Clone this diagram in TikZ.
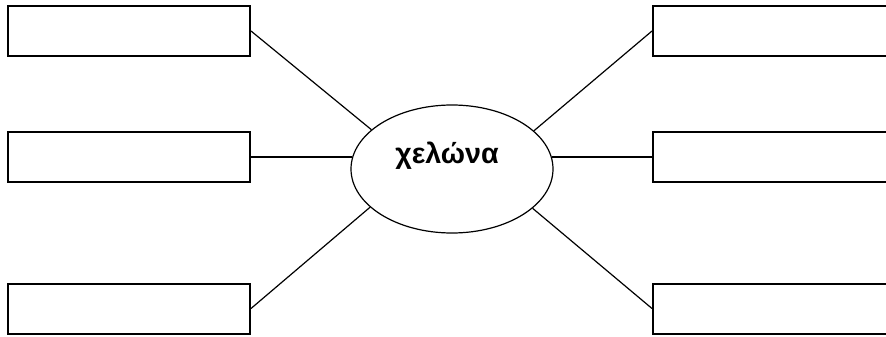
\documentclass[tikz,border=0pt]{standalone}
\usepackage{fontspec}
\setmainfont{Liberation Sans}
\usetikzlibrary{shapes.geometric}
\begin{document}
\begin{tikzpicture}[x=0.75pt,y=-0.75pt,
		answerbox/.style={draw,line width=1.5pt,minimum width=181.5pt,minimum height=37.5pt,inner sep=0pt},
		middle/.style={draw,ellipse,line width=0.9pt,minimum width=151.5pt,minimum height=96pt,inner sep=0pt},
		spoke/.style={line width=0.9pt}]
		\useasboundingbox (0,0) rectangle (886,336);

		\node[middle] (turtle) at (452,169) {};
		\node[font=\bfseries\fontsize{21.5}{26}\selectfont] (turtletext) at (447,156) {χελώνα};

		\node[answerbox] (boxL1) at (129,31) {};
		\node[answerbox] (boxL2) at (129,157) {};
		\node[answerbox] (boxL3) at (129,308.5) {};

		\node[answerbox] (boxR1) at (774,31) {};
		\node[answerbox] (boxR2) at (774,157) {};
		\node[answerbox] (boxR3) at (774,308.5) {};

		\draw[spoke] (boxL1.east) -- (turtle.154.9);
		\draw[spoke] (boxL2.east) -- (turtle.173.1 |- boxL2.east);
		\draw[spoke] (boxL3.east) -- (turtle.205.7);

		\draw[spoke] (boxR1.west) -- (turtle.25.1);
		\draw[spoke] (boxR2.west) -- (turtle.6.9 |- boxR2.west);
		\draw[spoke] (boxR3.west) -- (turtle.334.3);
	\end{tikzpicture}
\end{document}
